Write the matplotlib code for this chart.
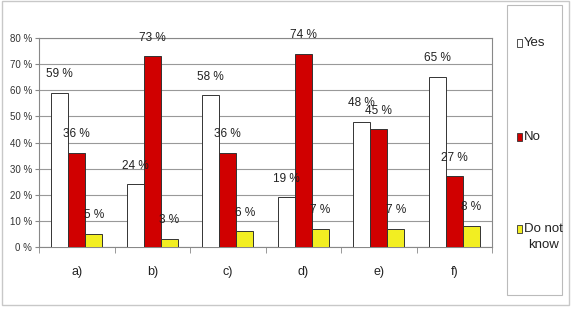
import matplotlib.pyplot as plt
import numpy as np
from matplotlib.patches import Rectangle

# Data
categories = ['a)', 'b)', 'c)', 'd)', 'e)', 'f)']
yes_vals = [59, 24, 58, 19, 48, 65]
no_vals = [36, 73, 36, 74, 45, 27]
dontknow_vals = [5, 3, 6, 7, 7, 8]
series_names = ['Yes', 'No', 'Do not\nknow']
y_ticks = [0, 10, 20, 30, 40, 50, 60, 70, 80]

plt.rcParams['font.family'] = ['Liberation Sans Narrow', 'Liberation Sans', 'DejaVu Sans']

fig = plt.figure(figsize=(5.74, 3.09), dpi=100)
W, H = 574, 309

# outer light frame
fig.patches.append(Rectangle((2 / W, 4 / H), 567 / W, 304 / H, transform=fig.transFigure,
                             fill=False, edgecolor='#c8c8c8', linewidth=1))

ax = fig.add_axes([39 / W, 1 - 247 / H, 453 / W, 209 / H])

x = np.arange(len(categories))
w = 0.227
colors = ['white', '#d00000', '#f2ee22']
series = [yes_vals, no_vals, dontknow_vals]
for i, (vals, c) in enumerate(zip(series, colors)):
    xs = x + (i - 1) * w
    ax.bar(xs, vals, width=w, color=c, edgecolor='#333333', linewidth=0.7, zorder=3)
    for xi, v in zip(xs, vals):
        ax.annotate(f'{v} %', (xi, v), xytext=(0, 13.5), textcoords='offset points',
                    ha='center', va='center', fontsize=8.5, color='#222222', zorder=4)

ax.set_xlim(-0.5, len(categories) - 0.5)
ax.set_ylim(0, 80)
ax.set_yticks(y_ticks)
ax.set_yticklabels([f'{t} %' for t in y_ticks], fontsize=7, color='#333333')
ax.yaxis.grid(True, color='#999999', linewidth=0.8, zorder=0)
ax.set_axisbelow(True)

ax.set_xticks(x)
ax.set_xticklabels(categories, fontsize=9, color='#222222')
ax.tick_params(axis='x', which='major', length=0, pad=14)
ax.set_xticks(np.arange(len(categories) + 1) - 0.5, minor=True)
ax.tick_params(axis='x', which='minor', length=4, color='#888888')
ax.tick_params(axis='y', length=3, color='#888888', pad=2)

for s in ['top', 'right', 'left', 'bottom']:
    ax.spines[s].set_color('#888888')

# legend box
fig.patches.append(Rectangle((507 / W, 1 - 295 / H), 55 / W, 290 / H, transform=fig.transFigure,
                             fill=False, edgecolor='#bbbbbb', linewidth=0.8))
leg_y = [43, 137, 229]
for name, c, yy in zip(series_names, colors, leg_y):
    fig.patches.append(Rectangle((517 / W, 1 - (yy + 4) / H), 5 / W, 8 / H,
                                 transform=fig.transFigure, facecolor=c,
                                 edgecolor='#333333', linewidth=0.6))
    fig.text(524 / W, 1 - (yy - 6 if '\n' in name else yy) / H, name, fontsize=9.5,
             va='top' if '\n' in name else 'center', multialignment='center',
             ha='left', color='#222222', linespacing=1.5)

fig.savefig('out.png', dpi=100)
